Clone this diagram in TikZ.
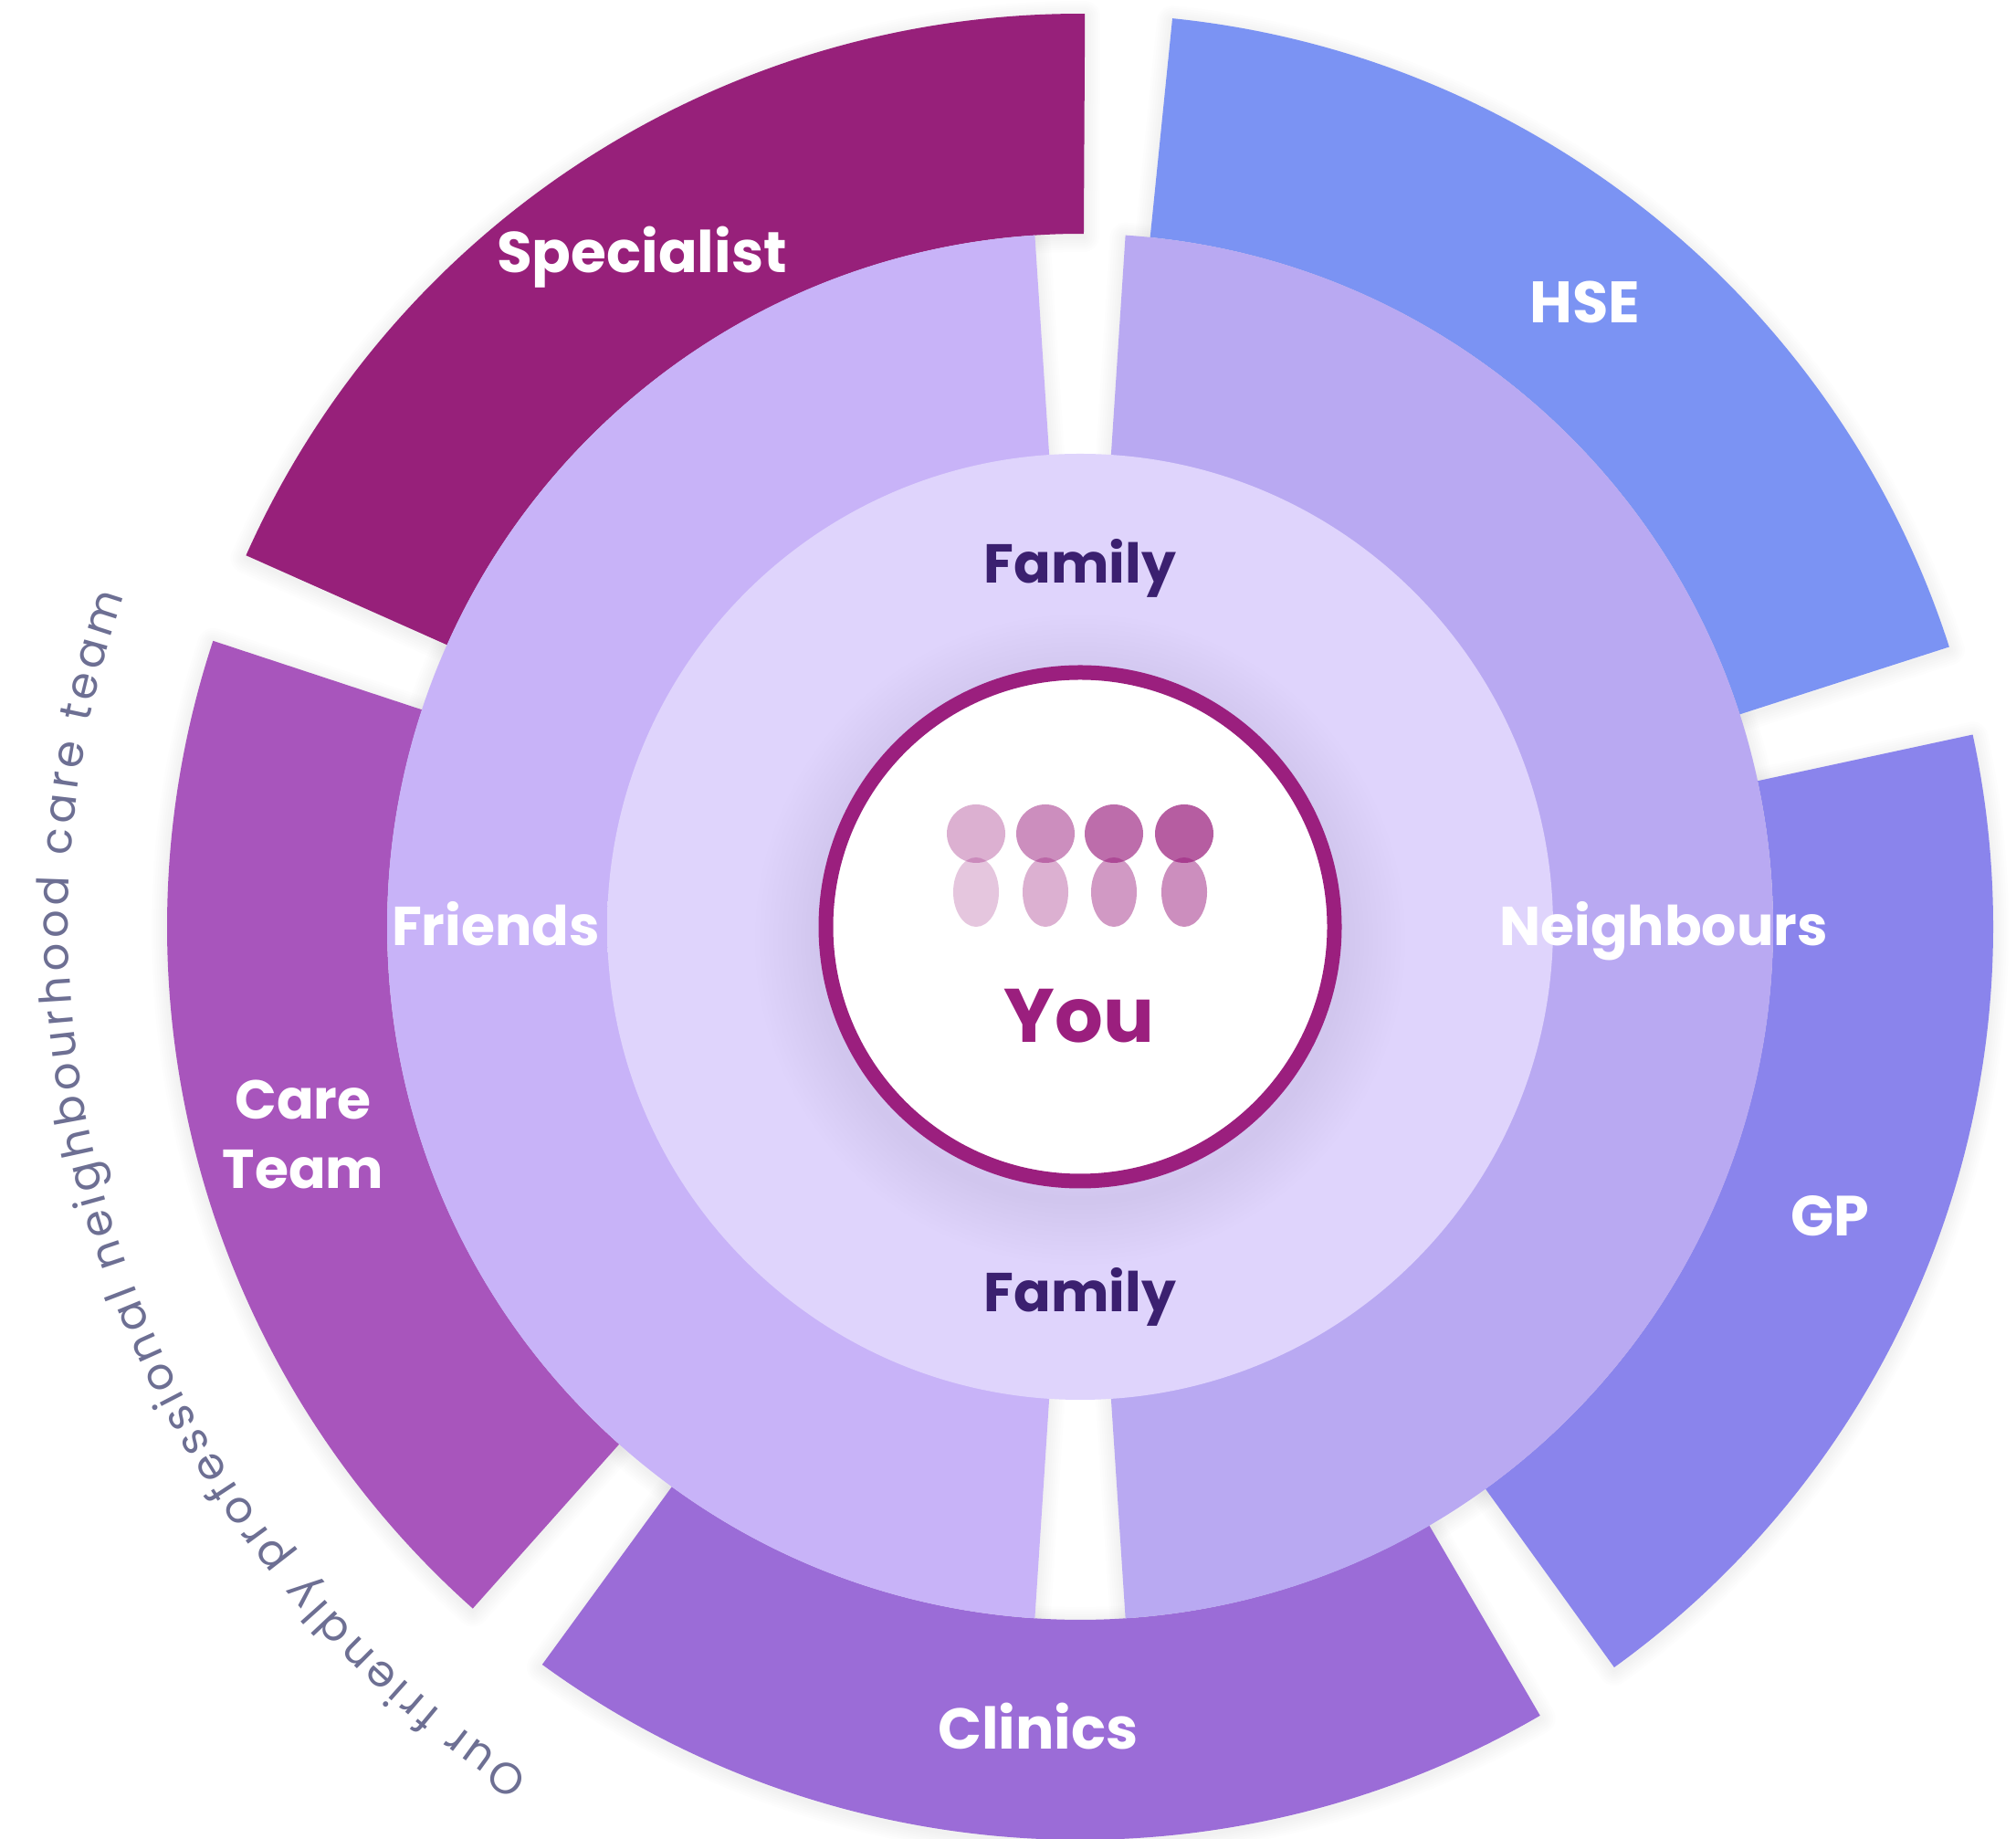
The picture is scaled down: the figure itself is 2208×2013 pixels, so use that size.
\documentclass[tikz,border=0pt]{standalone}
\usepackage{fontspec}
\setmainfont{Poppins}
\usetikzlibrary{decorations.text}
\definecolor{cSpec}{HTML}{97207A}
\definecolor{cHSE}{HTML}{7B93F3}
\definecolor{cGP}{HTML}{8A84EC}
\definecolor{cClin}{HTML}{9B6CD7}
\definecolor{cCare}{HTML}{A855BC}
\definecolor{cFri}{HTML}{C8B3F8}
\definecolor{cNei}{HTML}{B9A9F2}
\definecolor{cRim}{HTML}{9B1F7E}
\definecolor{cFam}{HTML}{3B2070}
\definecolor{cArc}{HTML}{6D6F93}
\pgfdeclareradialshading{discshade}{\pgfpointorigin}{
  rgb(0bp)=(0.875,0.83,0.99);
  rgb(26bp)=(0.875,0.83,0.99);
  rgb(37bp)=(0.885,0.845,1);
  rgb(50bp)=(0.84,0.79,0.975)}
\newcommand{\sectorpath}[4]{(#1:#3pt) arc[start angle=#1,end angle=#2,radius=#3pt] -- (#2:#4pt) arc[start angle=#2,end angle=#1,radius=#4pt] -- cycle}
\newcommand{\softedge}[4]{\foreach \w in {4,9,14,19,24,29,34}{\path[draw=black,draw opacity=0.009,line width=\w pt,line join=round,yshift=-3pt] \sectorpath{#1}{#2}{#3}{#4};}}
\tikzset{
  lab/.style={font=\fontsize{60}{60}\selectfont\bfseries,text=white,inner sep=0pt,anchor=center},
  fam/.style={font=\fontsize{60}{60}\selectfont\bfseries,text=cFam,inner sep=0pt,anchor=center},
  head/.style={fill=cRim,draw=none},
  body/.style={fill=cRim,draw=none}
}
\begin{document}
\begin{tikzpicture}[x=1pt,y=1pt]
\useasboundingbox (0,0) rectangle (2208,2013);
\fill[white] (0,0) rectangle (2208,2013);
\begin{scope}[shift={(1183,998)}]
% soft shadows, drawn under all the fills
\softedge{89.7}{156}{1000}{759}
\softedge{17.85}{84.2}{1000}{759}
\softedge{-54.2}{12.15}{1000}{759}
\softedge{233.9}{300.25}{1000}{759}
\softedge{161.75}{228.3}{1000}{759}
\softedge{93.75}{266.25}{759}{518}
\softedge{-86.25}{86.25}{759}{518}
% outer sectors
\fill[cSpec] \sectorpath{89.7}{156}{1000}{759};
\fill[cHSE] \sectorpath{17.85}{84.2}{1000}{759};
\fill[cGP] \sectorpath{-54.2}{12.15}{1000}{759};
\fill[cClin] \sectorpath{233.9}{300.25}{1000}{759};
\fill[cCare] \sectorpath{161.75}{228.3}{1000}{759};
% middle ring
\fill[cFri] \sectorpath{93.75}{266.25}{759}{510};
\fill[cNei] \sectorpath{-86.25}{86.25}{759}{510};
% inner disc
\shade[shading=discshade] (0,0) circle[radius=518pt];
% shadow of the centre circle
\foreach \w in {10,20,30,40,50,60,70,80,90,100,110,120,130,140}{\path[draw=black!70!cRim,draw opacity=0.005,line width=\w pt] (0,-14) circle[radius=286pt];}
% centre circle
\path[fill=white,draw=cRim,line width=16pt] (0,0) circle[radius=278.5pt];
% people
\fill[body,opacity=.25] (-114,38) ellipse[x radius=25pt,y radius=38pt];
\fill[body,opacity=.35] (-38,38) ellipse[x radius=25pt,y radius=38pt];
\fill[body,opacity=.45] (37,38) ellipse[x radius=25pt,y radius=38pt];
\fill[body,opacity=.5] (114,38) ellipse[x radius=25pt,y radius=38pt];
\fill[head,opacity=.35] (-114,102) circle[radius=32pt];
\fill[head,opacity=.5] (-38,102) circle[radius=32pt];
\fill[head,opacity=.65] (37,102) circle[radius=32pt];
\fill[head,opacity=.72] (114,102) circle[radius=32pt];
% labels
\node[inner sep=0pt,font=\fontsize{83}{83}\selectfont\bfseries,text=cRim] (you) at (-1,-98) {You};
\node[fam] (fam1) at (0,393) {Family};
\node[fam] (fam2) at (0,-405) {Family};
\node[lab] (fri) at (-640,3) {Friends};
\node[lab] (nei) at (639,-5) {Neighbours};
\node[lab,font=\fontsize{63}{63}\selectfont\bfseries] (spe) at (-480,733) {Specialist};
\node[lab,font=\fontsize{64}{64}\selectfont\bfseries] (hse) at (553,684) {HSE};
\node[lab,font=\fontsize{62}{62}\selectfont\bfseries] (gp) at (821,-317) {GP};
\node[lab,font=\fontsize{63}{63}\selectfont\bfseries] (cli) at (-46,-876) {Clinics};
\node[lab] (car) at (-851,-189) {Care};
\node[lab] (tea) at (-851,-266) {Team};
% curved caption
\path[decorate,decoration={text along path,
  text={|\fontsize{48}{48}\selectfont\color{cArc}|Our friendly professional neighbourhood care team},
  text align={fit to path}}]
  (237:1108pt) arc[start angle=237,end angle=161,radius=1108pt];
\end{scope}
\end{tikzpicture}
\end{document}
